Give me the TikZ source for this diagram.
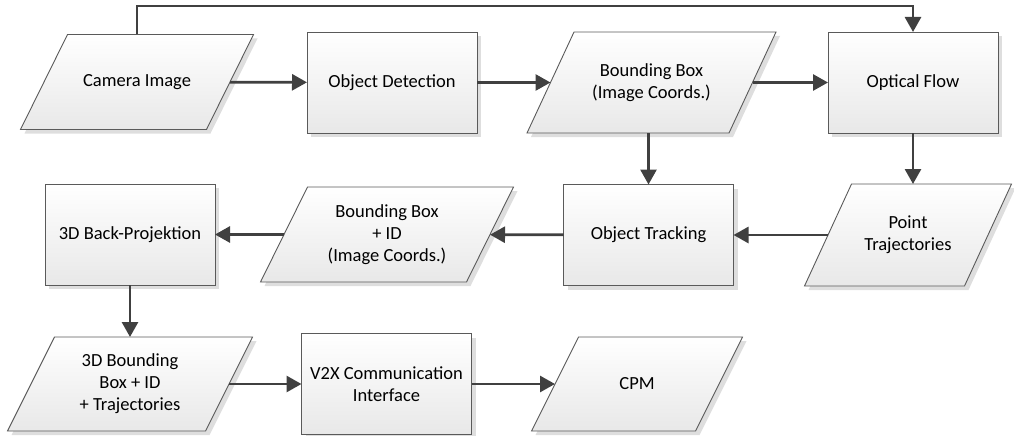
\documentclass[tikz,border=0pt]{standalone}
\usepackage{fontspec}
\setmainfont{Carlito}
\usetikzlibrary{arrows.meta,shadows,backgrounds}

\definecolor{linegray}{HTML}{404040}
\definecolor{boxgray}{HTML}{5A5A5A}

\tikzset{
  box/.style={draw=boxgray, line width=0.9pt,
    top color=white, bottom color=black!9,
    drop shadow={shadow xshift=4pt, shadow yshift=-4pt, fill=black!13, opacity=1}},
  label/.style={rectangle, outer sep=0pt, align=center,
    font=\fontsize{18.5}{22}\selectfont},
  proc/.style={box, label, minimum width=170pt, minimum height=101pt},
  data/.style={label, minimum height=95pt},
  flow/.style={draw=linegray, line width=2.8pt,
    -{Triangle[length=15pt,width=16pt]}}
}

\begin{document}
\begin{tikzpicture}[x=1pt, y=-1pt]
    \useasboundingbox (0,0) rectangle (1014,436);
    % first row
    \node[data, minimum width=186pt] (cam) at (137,82) {Camera Image};
    \node[proc] (det) at (392,82.5) {Object Detection};
    \node[data, minimum width=202pt, minimum height=101pt] (bb) at (651.5,82.5) {Bounding Box\\(Image Coords.)};
    \node[proc] (of) at (913,82.5) {Optical Flow};
    % second row
    \node[proc] (bp) at (130,234.5) {3D Back-Projektion};
    \node[data, minimum width=206pt] (bbid) at (387,234.5) {Bounding Box\\+ ID\\(Image Coords.)};
    \node[proc] (ot) at (648.5,235) {Object Tracking};
    \node[data, minimum width=160pt, minimum height=102pt] (pt) at (908,235) {Point\\Trajectories};
    % third row
    \node[data, minimum width=198pt, minimum height=94pt] (bb3) at (130,384) {3D Bounding\\Box + ID\\+ Trajectories};
    \node[proc] (v2x) at (386.5,384) {V2X Communication\\Interface};
    \node[data, minimum width=164pt, minimum height=94pt] (cpm) at (637,384) {CPM};
    \coordinate (top) at (913,6);

    % parallelograms behind the data nodes
    \begin{pgfonlayer}{background}
      \foreach \n in {cam,bb,bbid,pt,bb3,cpm}
        \path[box] ([xshift=-23.5pt]\n.south west) -- ([xshift=-23.5pt]\n.south east)
          -- ([xshift=23.5pt]\n.north east) -- ([xshift=23.5pt]\n.north west) -- cycle;
    \end{pgfonlayer}

    \draw[flow] (cam) -- (det);
    \draw[flow] (det) -- (bb);
    \draw[flow] (bb) -- (of);
    \draw[flow] (cam.north) |- (top) -- (of.north);
    \draw[flow] (bb.south -| ot.north) -- (ot.north);
    \draw[flow] (of.south) -- (of.south |- pt.north);
    \draw[flow] (pt) -- (ot);
    \draw[flow] (ot) -- (bbid);
    \draw[flow] (bbid) -- (bp);
    \draw[flow] (bp) -- (bb3);
    \draw[flow] (bb3) -- (v2x);
    \draw[flow] (v2x) -- (cpm);
  \end{tikzpicture}
\end{document}
